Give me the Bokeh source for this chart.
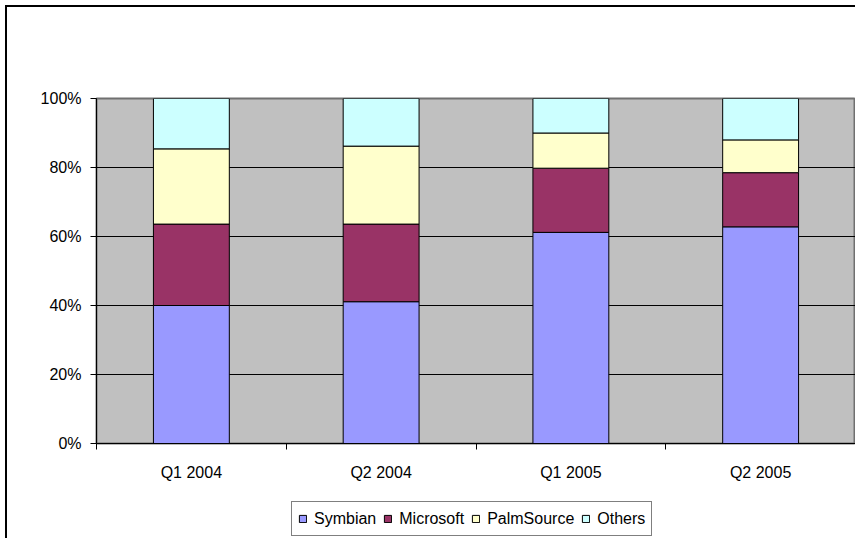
from bokeh.plotting import figure
from bokeh.layouts import column
from bokeh.models import (FixedTicker, PrintfTickFormatter, Legend, LegendItem,
                          ColumnDataSource, Range1d)
from bokeh.embed import file_html
from bokeh.resources import INLINE

quarters = ["Q1 2004", "Q2 2004", "Q1 2005", "Q2 2005"]
series = ["Symbian", "Microsoft", "PalmSource", "Others"]
symbian = [40.0, 41.1, 61.2, 62.8]
microsoft = [23.6, 22.5, 18.6, 15.7]
palmsource = [21.8, 22.6, 10.2, 9.5]
others = [14.6, 13.8, 10.0, 12.0]
colors = ["#9999FF", "#993366", "#FFFFCC", "#CCFFFF"]
y_ticks = [0, 20, 40, 60, 80, 100]

FONT = "Liberation Sans"

xs = [i + 0.5 for i in range(len(quarters))]
source = ColumnDataSource(dict(x=xs, Symbian=symbian, Microsoft=microsoft,
                               PalmSource=palmsource, Others=others))

# ---- main chart ----
p = figure(width=848, height=488, output_backend="svg", toolbar_location=None,
           x_range=Range1d(0, len(quarters)), y_range=Range1d(0, 100),
           min_border_left=89, min_border_right=0, min_border_top=91,
           min_border_bottom=52)

p.background_fill_color = "#C0C0C0"
p.border_fill_color = "white"
p.outline_line_color = "#707070"
p.outline_line_width = 2

renderers = p.vbar_stack(series, x="x", width=0.4, source=source,
                         fill_color=colors, line_color="black", line_width=1)

p.yaxis.ticker = FixedTicker(ticks=y_ticks)
p.yaxis.formatter = PrintfTickFormatter(format="%d%%")
p.yaxis.major_tick_out = 6
p.yaxis.major_tick_in = 0
p.yaxis.minor_tick_out = 0
p.yaxis.minor_tick_in = 0
p.yaxis.axis_line_color = "black"
p.yaxis.major_label_text_font = FONT
p.yaxis.major_label_text_font_size = "16px"
p.yaxis.major_label_text_color = "black"
p.yaxis.major_label_standoff = 9

p.xaxis.ticker = FixedTicker(ticks=xs, minor_ticks=list(range(len(quarters) + 1)))
p.xaxis.major_label_overrides = {x: q for x, q in zip(xs, quarters)}
p.xaxis.major_tick_out = 0
p.xaxis.major_tick_in = 0
p.xaxis.minor_tick_out = 6
p.xaxis.minor_tick_in = 0
p.xaxis.axis_line_color = "black"
p.xaxis.major_label_text_font = FONT
p.xaxis.major_label_text_font_size = "16px"
p.xaxis.major_label_text_color = "black"
p.xaxis.major_label_standoff = 14

p.xgrid.visible = False
p.ygrid.ticker = FixedTicker(ticks=y_ticks)
p.ygrid.grid_line_color = "black"
p.ygrid.grid_line_width = 1

# ---- legend strip (its bars lie outside its visible range) ----
p2 = figure(width=848, height=43, output_backend="svg", toolbar_location=None,
            x_range=Range1d(0, len(quarters)), y_range=Range1d(200, 300),
            x_axis_type=None, y_axis_type=None,
            min_border_left=0, min_border_right=0, min_border_top=0,
            min_border_bottom=0)
p2.outline_line_color = None
p2.background_fill_color = "white"
p2.border_fill_color = "white"
p2.xgrid.visible = False
p2.ygrid.visible = False
leg_renderers = p2.vbar_stack(series, x="x", width=0.4, source=source,
                              fill_color=colors, line_color="black", line_width=1)

legend = Legend(items=[LegendItem(label=s, renderers=[r]) for s, r in zip(series, leg_renderers)],
                orientation="horizontal", location=(195, 2),
                label_text_font=FONT, label_text_font_size="16px",
                label_text_color="black",
                glyph_width=9, glyph_height=9, label_standoff=7, spacing=7,
                padding=6, label_height=21, margin=0,
                border_line_color="black", border_line_width=1,
                background_fill_color="white", background_fill_alpha=1.0)
p2.add_layout(legend)

layout = column(p, p2, spacing=0)
layout.styles = {"margin-left": "5px", "margin-top": "5px",
                 "border-left": "2px solid black", "border-top": "2px solid black"}

open("out.html", "w").write(file_html(layout, INLINE))
